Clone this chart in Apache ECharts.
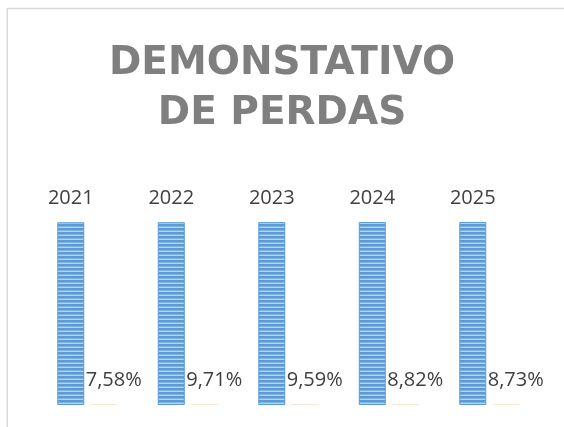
<!DOCTYPE html>
<html>
<head>
<meta charset="utf-8">
<script src="https://cdn.jsdelivr.net/npm/echarts@6/dist/echarts.min.js"></script>
<style>
  html, body { margin: 0; padding: 0; background: #fff; }
  #main { width: 564px; height: 427px; }
</style>
</head>
<body>
<div id="main"></div>
<script>
// dados do gráfico
var anos = ['2021', '2022', '2023', '2024', '2025'];
var valoresAno = [2021, 2022, 2023, 2024, 2025];
var perdas = [7.58, 9.71, 9.59, 8.82, 8.73];

// padrão listrado das barras azuis
function listras() {
  var c = document.createElement('canvas');
  c.width = 4;
  c.height = 4;
  var ctx = c.getContext('2d');
  ctx.fillStyle = '#5b9bd5';
  ctx.fillRect(0, 0, 4, 2);
  ctx.fillStyle = '#82b2e0';
  ctx.fillRect(0, 2, 4, 1);
  ctx.fillStyle = '#b5d2ee';
  ctx.fillRect(0, 3, 4, 1);
  return c;
}

var myChart = echarts.init(document.getElementById('main'));

var fonte = { fontFamily: 'Open Sans', fontSize: 20, color: '#404040' };

var option = {
  animation: false,
  backgroundColor: '#fff',
  title: {
    text: 'DEMONSTATIVO\nDE PERDAS',
    left: 'center',
    top: 39,
    padding: 0,
    textStyle: {
      fontFamily: 'DejaVu Sans',
      fontWeight: 'bold',
      fontSize: 39,
      lineHeight: 50,
      color: '#7f7f7f'
    }
  },
  graphic: [{
    type: 'rect',
    silent: true,
    shape: { x: 7.3, y: 8.5, width: 700, height: 600 },
    style: { fill: 'none', stroke: '#d9d9d9', lineWidth: 1.5 }
  }],
  grid: { left: 37, right: 24.5, top: 179, bottom: 22 },
  xAxis: {
    type: 'category',
    data: anos,
    axisLine: { show: false },
    axisTick: { show: false },
    axisLabel: { show: false }
  },
  yAxis: {
    type: 'value',
    min: 0,
    max: 2500,
    show: false,
    splitLine: { show: false }
  },
  series: [{
    name: 'Ano',
    type: 'bar',
    data: valoresAno,
    barWidth: 27,
    barGap: '22%',
    itemStyle: {
      color: { image: listras(), repeat: 'repeat' },
      borderColor: '#5b9bd5',
      borderWidth: 1
    },
    label: {
      show: true,
      position: 'top',
      distance: 14,
      fontFamily: fonte.fontFamily,
      fontSize: fonte.fontSize,
      color: fonte.color
    }
  }, {
    name: 'Perdas',
    type: 'bar',
    data: perdas,
    barWidth: 27,
    barMinHeight: 1,
    itemStyle: { color: '#fbe5d6' },
    label: {
      show: true,
      position: 'top',
      distance: 14,
      offset: [10, 0],
      fontFamily: fonte.fontFamily,
      fontSize: fonte.fontSize,
      color: fonte.color,
      formatter: function (p) {
        return p.value.toFixed(2).replace('.', ',') + '%';
      }
    }
  }]
};

myChart.setOption(option);
</script>
</body>
</html>
